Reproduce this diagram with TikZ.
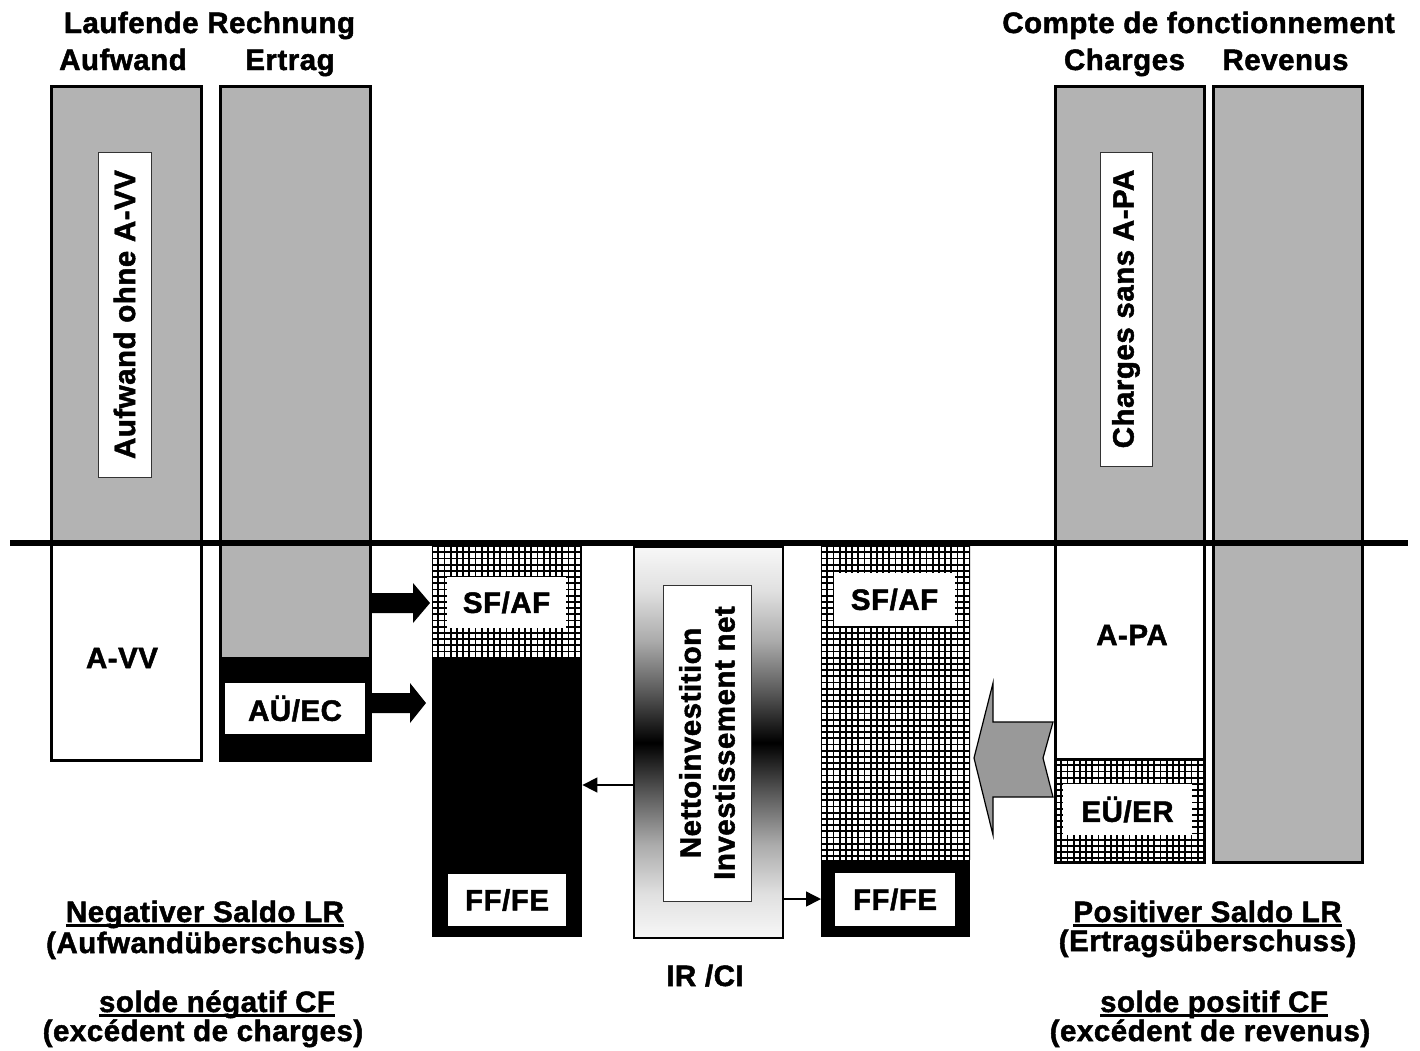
\documentclass[tikz,border=0pt]{standalone}
\usepackage{fontspec}
\setmainfont{Liberation Sans}[BoldFeatures={FakeBold=1.6,LetterSpace=1.7}]
\usetikzlibrary{arrows.meta,calc}
\definecolor{colgray}{RGB}{179,179,179}
\definecolor{arrgray}{RGB}{153,153,153}
\pgfdeclareverticalshading{netshade}{100bp}{color(0bp)=(white); color(25bp)=(white!97!black); color(30.6bp)=(white!88!black); color(37bp)=(white!67!black); color(43.5bp)=(white!35!black); color(50bp)=(black); color(56.5bp)=(white!35!black); color(63bp)=(white!67!black); color(69.4bp)=(white!88!black); color(75bp)=(white!97!black); color(100bp)=(white)}
\newcommand\myul[1]{\setbox0\hbox{#1}\rlap{\rule[-4.5pt]{\wd0}{2.6pt}}\box0}
\newcommand\hatch[4]{%
  \begin{scope}
    \clip (#1,#2) rectangle (#3,#4);
    \fill[white] (#1,#2) rectangle (#3,#4);
    \foreach \i in {0,...,55} {
      \draw[hatchline] ({#1+\i*6.2},#2) -- ({#1+\i*6.2},#4);
      \draw[hatchline] (#1,{#2+\i*6.2}) -- (#3,{#2+\i*6.2});
    }
  \end{scope}}
\begin{document}
\begin{tikzpicture}[x=1pt,y=-1pt,
  txt/.style={font=\fontsize{29.5}{34}\selectfont\bfseries, inner sep=0pt},
  labelbox/.style={txt, fill=white, inner sep=0pt},
  innerbox/.style={txt, fill=white, draw=black!80, line width=0.8pt, inner sep=0pt, rotate=90},
  colborder/.style={draw=black, line width=3pt},
  hatchline/.style={line width=1.8pt, black},
  thinarr/.style={line width=1.5pt, -{Triangle[length=15pt,width=15pt]}},
  blockarrow/.style={fill=black},
  frame/.style={inner sep=0pt, anchor=north west}]
\useasboundingbox (0,0) rectangle (1420,1050);
\fill[white] (0,0) rectangle (1420,1050);

% ---------- headers
\node[txt, anchor=base] (hLR) at (209.5,33) {Laufende Rechnung};
\node[txt, anchor=base] (hAuf) at (123,70) {Aufwand};
\node[txt, anchor=base] (hErt) at (290,70) {Ertrag};
\node[txt, anchor=base] (hCF) at (1198.5,33) {Compte de fonctionnement};
\node[txt, anchor=base] (hCha) at (1124.5,70) {Charges};
\node[txt, anchor=base] (hRev) at (1285.5,70) {Revenus};

% ---------- Aufwand column
\fill[colgray] (51,86) rectangle (201,543);
\fill[white] (51,543) rectangle (201,760);
\draw[colborder] (51,86) rectangle (201,760);
\node[innerbox, minimum width=325pt, minimum height=53pt] (aufohne) at (124.5,314.5) {Aufwand ohne A-VV};
\node[txt] (avv) at (122,658) {A-VV};

% ---------- Ertrag column
\fill[colgray] (220,86) rectangle (370,657);
\fill[black] (220,657) rectangle (370,760);
\draw[colborder] (220,86) rectangle (370,760);
\node[labelbox, minimum width=140pt, minimum height=51pt] (auec) at (295,708.5) {AÜ/EC};

% ---------- block arrows
\fill[blockarrow] (370,593) -- (413,593) -- (413,583) -- (430,603) -- (413,623) -- (413,613) -- (370,613) -- cycle;
\fill[blockarrow] (365,693) -- (410,693) -- (410,683) -- (426,703) -- (410,723) -- (410,713) -- (365,713) -- cycle;

% ---------- left SF/AF column
\node[frame, minimum width=150pt, minimum height=391pt] (sfl) at (432,546) {};
\hatch{432}{546}{582}{657}
\fill[black] (432,657) rectangle (582,937);
\node[labelbox, minimum width=119pt, minimum height=51pt] (sfafl) at (506.5,602.5) {SF/AF};
\node[labelbox, minimum width=118pt, minimum height=52pt] (fffel) at (507,900) {FF/FE};

% ---------- net investment
\node[frame, draw=black, line width=2.2pt, shade, shading=netshade, minimum width=149pt, minimum height=391pt] (net) at (633,546) {};
\node[innerbox, align=center, minimum width=316pt, minimum height=88pt] (netin) at (707,743) {Nettoinvestition\\Investissement net};
\node[txt, anchor=base] (ir) at (705,986) {IR /CI};

% ---------- right SF/AF column
\node[frame, minimum width=149pt, minimum height=391pt] (sfr) at (821,546) {};
\hatch{821}{546}{970}{860}
\fill[black] (821,860) rectangle (970,937);
\node[labelbox, minimum width=121pt, minimum height=53pt] (sfafr) at (894.5,599.5) {SF/AF};
\node[labelbox, minimum width=120pt, minimum height=53pt] (fffer) at (895,899.5) {FF/FE};

% ---------- thin arrows
\coordinate (ya) at (0,785);
\coordinate (yb) at (0,899);
\draw[thinarr] (net.west |- ya) -- (sfl.east |- ya);
\draw[thinarr] (net.east |- yb) -- (sfr.west |- yb);

% ---------- Charges column
\fill[colgray] (1055,86) rectangle (1204,543);
\fill[white] (1055,543) rectangle (1204,759);
\hatch{1055}{759}{1204}{862}
\draw[line width=3pt] (1055,759) -- (1204,759);
\draw[colborder] (1055,86) rectangle (1204,862);
\node[innerbox, minimum width=314pt, minimum height=52pt] (chsans) at (1126,309) {Charges sans A-PA};
\node[txt] (apa) at (1132,635) {A-PA};
\node[labelbox, minimum width=129pt, minimum height=51pt] (euer) at (1127.5,809.5) {EÜ/ER};

% ---------- Revenus column
\fill[colgray] (1213,86) rectangle (1362,862);
\draw[colborder] (1213,86) rectangle (1362,862);

% ---------- big gray arrow
\draw[fill=arrgray, line width=1.2pt, line join=miter] (1053,722) -- (993,722) -- (993,683) -- (974,758) -- (993,835) -- (993,797) -- (1053,797) -- (1043,758) -- cycle;

% ---------- horizontal axis line
\draw[line width=6pt] (10,543) -- (1408,543);

% ---------- bottom texts
\node[txt, anchor=base] (negLR) at (205,922) {\myul{Negativer Saldo LR}};
\node[txt, anchor=base] (negLR2) at (205.5,953) {(Aufwandüberschuss)};
\node[txt, anchor=base] (negCF) at (217,1012) {\myul{solde négatif CF}};
\node[txt, anchor=base] (negCF2) at (203,1041) {(excédent de charges)};
\node[txt, anchor=base] (posLR) at (1207.5,922) {\myul{Positiver Saldo LR}};
\node[txt, anchor=base] (posLR2) at (1207.5,951) {(Ertragsüberschuss)};
\node[txt, anchor=base] (posCF) at (1214,1012) {\myul{solde positif CF}};
\node[txt, anchor=base] (posCF2) at (1210,1041) {(excédent de revenus)};
\end{tikzpicture}
\end{document}
